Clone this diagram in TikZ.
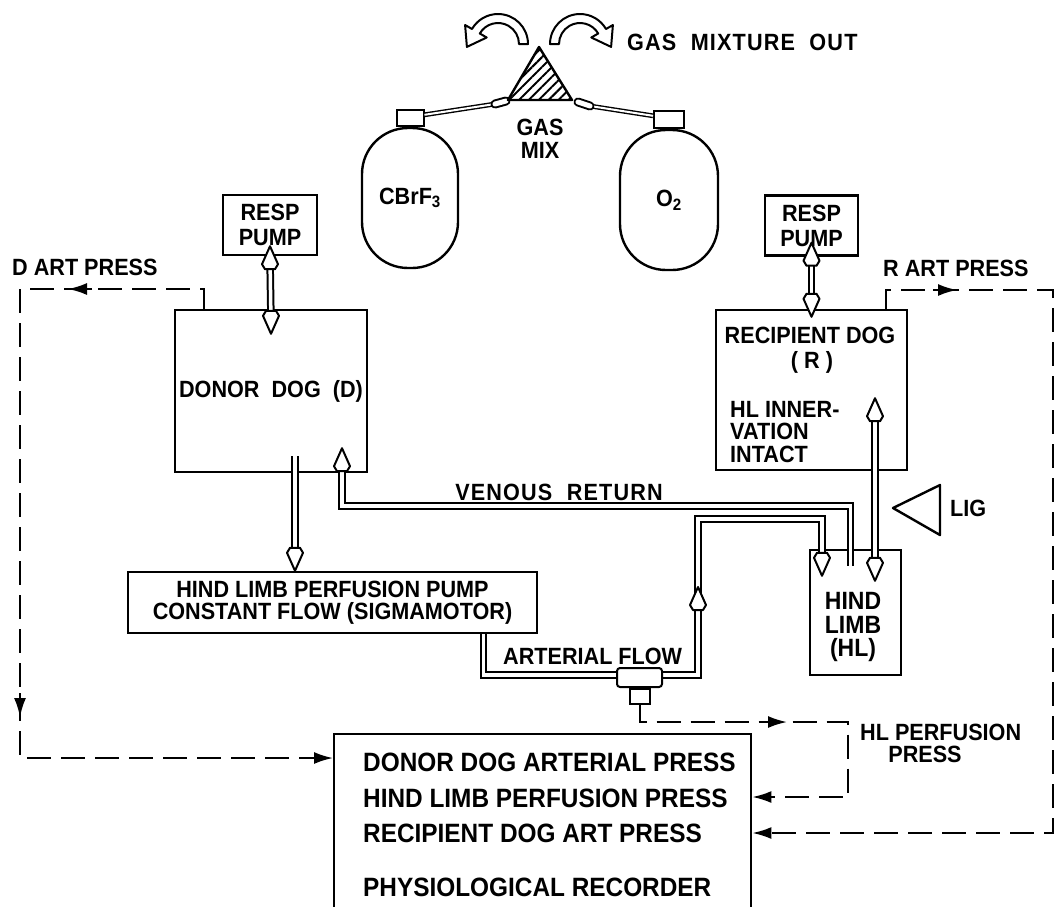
\documentclass[tikz,border=0pt]{standalone}
\usepackage{fontspec}
\setmainfont{Liberation Sans}[FakeStretch=0.92]
\usetikzlibrary{arrows.meta,calc,patterns.meta}

\newcommand{\diagfont}{\fontsize{23.5}{25}\selectfont\bfseries}
\newcommand{\recfont}{\fontsize{26.5}{28}\selectfont\bfseries}
% open heads on the blood lines
\newcommand{\kitedown}[1]{\draw[kitehead] #1 -- ++(-8,-18) -- ++(3,-5) -- ++(10,0) -- ++(3,5) -- cycle;}
\newcommand{\kiteup}[1]{\draw[kitehead] #1 -- ++(-8,18) -- ++(3,5) -- ++(10,0) -- ++(3,-5) -- cycle;}

\tikzset{
  box/.style={draw, line width=2.4pt, inner sep=0pt, align=center, font=\diagfont},
  lab/.style={inner sep=0pt, font=\diagfont},
  cyl/.style={draw, line width=2.4pt, rounded corners=46pt, inner sep=0pt, font=\diagfont},
  pipe/.style={line width=2pt, double=white, double distance=3.5pt},
  tube/.style={line width=1.4pt, double=white, double distance=2pt},
  kitehead/.style={line width=2pt, fill=white, line join=round},
  press/.style={line width=2pt, dash pattern=on 24pt off 10pt, ->},
  presstip/.style={line width=2pt, ->}
}

\begin{document}
\begin{tikzpicture}[x=1pt, y=-1pt, >={Latex[length=19pt,width=12pt]}]
  \useasboundingbox (0,0) rectangle (1057,906);

  % gas supply
  \node[cyl, minimum width=96pt, minimum height=140pt] (cbrf) at (410,198) {CBrF\textsubscript{3}};
  \node[cyl, minimum width=98pt, minimum height=140pt] (oxy) at (669,200) {O\textsubscript{2}};
  \node[draw, line width=2pt, minimum width=27pt, minimum height=16pt, anchor=south] (cbrfcap) at (cbrf.north) {};
  \node[draw, line width=2pt, minimum width=30pt, minimum height=17pt, anchor=south] (oxycap) at (oxy.north) {};
  \coordinate (apex) at (539,47);
  \coordinate (mixL) at (508,100);
  \coordinate (mixR) at (572,100);
  \draw[tube] (cbrfcap.north east) ++(0,6) -- (495,104);
  \draw[tube] (590,106) -- ($(oxycap.north west)+(0,6)$);
  \draw[line width=2pt, double=white, double distance=5pt, line cap=round] (495,104) -- (506,101);
  \draw[line width=2pt, double=white, double distance=5pt, line cap=round] (578,102) -- (590,106);
  \draw[line width=2.4pt, line join=round, pattern={Lines[angle=45,distance=7pt,line width=2pt]}] (apex) -- (mixL) -- (mixR) -- cycle;
  \node[lab, align=center, font=\fontsize{23.5}{23}\selectfont\bfseries] (gasmix) at (540,139) {GAS\\MIX};

  % outflow arrows
  \draw[line width=2pt, line join=round, fill=white] (528,44) arc[start angle=0, end angle=-150, radius=30]
    -- (465.1,25) -- (466.9,46.9) -- (486.7,37.5) -- (479.8,33.5)
    arc[start angle=-150, end angle=0, radius=21] -- cycle;
  \draw[line width=2pt, line join=round, fill=white] (550,44) arc[start angle=180, end angle=330, radius=30]
    -- (612.9,25) -- (611.1,46.9) -- (591.3,37.5) -- (598.2,33.5)
    arc[start angle=330, end angle=180, radius=21] -- cycle;
  \node[lab, anchor=west, font=\diagfont\addfontfeature{LetterSpace=5}] (gasout) at (627,42) {GAS\ \ MIXTURE\ \ OUT};

  % boxes
  \node[box, minimum width=94pt, minimum height=60pt] (lpump) at (270,225) {RESP\\PUMP};
  \node[box, minimum width=93pt, minimum height=60pt] (rpump) at (811.5,225.5) {RESP\\PUMP};
  \node[box, minimum width=192pt, minimum height=162pt] (donor) at (271,391) {DONOR\ \ DOG\ \ (D)};
  \node[box, minimum width=191pt, minimum height=160pt] (recip) at (811.5,390) {};
  \node[lab] (recipname) at (810,335) {RECIPIENT DOG};
  \node[lab] (recipr) at (812,362) {( R )};
  \node[lab, anchor=west, align=left, font=\fontsize{23.5}{22.5}\selectfont\bfseries] (hlnerve) at (730,432) {HL INNER-\\VATION\\INTACT};
  \node[box, minimum width=409pt, minimum height=61pt, font=\fontsize{23.5}{22}\selectfont\bfseries] (perf) at (332.5,602.5) {HIND LIMB PERFUSION PUMP\\CONSTANT FLOW (SIGMAMOTOR)};
  \node[box, minimum width=91pt, minimum height=125pt] (hl) at (855.5,612.5) {};
  \node[lab, align=center, font=\fontsize{25}{23.5}\selectfont\bfseries] (hlname) at (853,627) {HIND\\LIMB\\(HL)};
  \node[box, minimum width=417pt, minimum height=200pt, anchor=north west] (rec) at (333,733) {};
  \node[lab, anchor=west, font=\recfont] (recl1) at (363,762) {DONOR DOG ARTERIAL PRESS};
  \node[lab, anchor=west, font=\recfont] (recl2) at (363,798) {HIND LIMB PERFUSION PRESS};
  \node[lab, anchor=west, font=\recfont] (recl3) at (363,833) {RECIPIENT DOG ART PRESS};
  \node[lab, anchor=west, font=\recfont] (recl4) at (363,887) {PHYSIOLOGICAL RECORDER};

  % ligature
  \draw[line width=2.4pt, line join=round] (893,508) -- (940,485) -- (940,535) -- cycle;
  \node[lab, anchor=west] (lig) at (950,508) {LIG};

  % respiration pumps
  \draw[pipe] ($(lpump.south)+(0,2)$) -- ($(donor.north)+(0,13)$);
  \kiteup{($(lpump.south)+(0,-10)$)}
  \kitedown{($(donor.north)+(0,25)$)}
  \draw[pipe] ($(rpump.south)+(0,-2)$) -- ($(recip.north)+(0,-4)$);
  \kiteup{($(rpump.south)+(0,-14)$)}
  \kitedown{($(recip.north)+(0,8)$)}

  % donor to perfusion pump
  \coordinate (dout) at ($(donor.south)+(24,-17)$);
  \draw[pipe] (dout) -- ($(dout |- perf.north)+(0,-12)$);
  \kitedown{(dout |- perf.north)}

  % venous return
  \coordinate (vin) at ($(donor.south)+(71,-25)$);
  \coordinate (vout) at ($(hl.north)+(-5,17)$);
  \draw[pipe] (vout) |- ($(vin)+(0,58)$) -- ($(vin)+(0,12)$);
  \kiteup{(vin)}
  \node[lab, font=\diagfont\addfontfeature{LetterSpace=5}] (venous) at (559,492) {VENOUS\ \ RETURN};

  % arterial flow
  \coordinate (aout) at ($(perf.south)+(151,0)$);
  \coordinate (ain) at ($(hl.north)+(-33.5,27)$);
  \coordinate (abend) at (698,675);
  \draw[pipe] (aout) |- (abend) |- ($(ain)+(0,-57)$) -- ($(ain)+(0,-12)$);
  \kitedown{(ain)}
  \kiteup{(698,587)}
  \node[draw, line width=2pt, fill=white, rounded corners=3pt, minimum width=45pt, minimum height=19pt, inner sep=0pt] (tee) at (639.5,677.5) {};
  \node[draw, line width=2pt, fill=white, minimum width=20pt, minimum height=15pt, inner sep=0pt, anchor=north] (teeport) at (tee.south) {};
  \node[lab, anchor=west] (artflow) at (503,656) {ARTERIAL FLOW};

  % recipient nerve supply to hind limb
  \coordinate (rtop) at ($(recip.south)+(63.5,-73)$);
  \draw[pipe] ($(rtop)+(0,12)$) -- ($(rtop |- hl.north)+(0,20)$);
  \kiteup{(rtop)}
  \kitedown{($(rtop |- hl.north)+(0,32)$)}

  % pressure lines
  \coordinate (dtap) at ($(donor.north west)+(30,0)$);
  \draw[press] (dtap) |- (20,289) |- ($(rec.north west)+(0,25)$);
  \draw[presstip] (92,289) -- (68,289);
  \draw[presstip] (20,693) -- (20,717);
  \node[lab, anchor=west] (dart) at (12,267) {D ART PRESS};

  \coordinate (rtap) at ($(recip.north east)+(-22,0)$);
  \draw[press] (rtap) |- (1053,290) |- ($(rec.north east)+(0,100)$);
  \draw[presstip] (933,290) -- (957,290);
  \node[lab, anchor=west] (rart) at (883,268) {R ART PRESS};

  \draw[press] (teeport.south) |- (848,722) |- ($(rec.north east)+(0,64)$);
  \draw[presstip] (763,722) -- (787,722);
  \node[lab, anchor=west] (hlpress) at (860,732) {HL PERFUSION};
  \node[lab] (hlpress2) at (925,754) {PRESS};
\end{tikzpicture}
\end{document}
